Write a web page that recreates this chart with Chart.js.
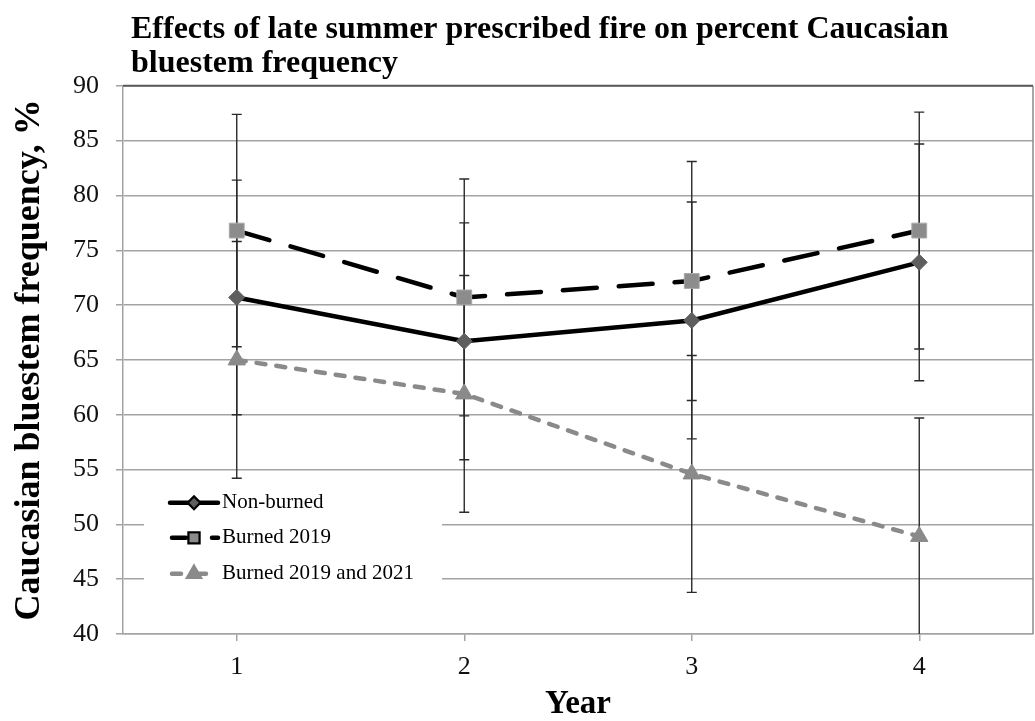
<!DOCTYPE html>
<html>
<head>
<meta charset="utf-8">
<script src="https://cdn.jsdelivr.net/npm/chart.js@4.4.1/dist/chart.umd.min.js"></script>
<style>
  html, body { margin: 0; padding: 0; background: #fff; }
  #wrap { width: 1035px; height: 721px; }
</style>
</head>
<body>
<div id="wrap"><canvas id="myChart" width="1035" height="721"></canvas></div>
<script>
// chart data
const years = ['1', '2', '3', '4'];
const nonBurned = [70.7, 66.7, 68.6, 73.9];
const nonBurnedErr = [10.7, 10.8, 10.8, 10.8];
const burned2019 = [76.8, 70.7, 72.2, 76.8];
const burned2019Err = [10.6, 10.8, 10.9, 10.8];
const burnedBoth = [65.0, 61.9, 54.6, 48.9];
const burnedBothErr = [10.8, 10.8, 10.8, 10.8];
const yTicks = [40, 45, 50, 55, 60, 65, 70, 75, 80, 85, 90];

const serif = "'Liberation Serif', 'Times New Roman', serif";
const gridGray = '#a3a3a3';

const data = {
  labels: years,
  datasets: [
    {
      label: 'Non-burned',
      data: nonBurned,
      errors: nonBurnedErr,
      borderColor: '#000',
      borderWidth: 4.5,
      pointStyle: 'rectRot',
      pointRadius: 8,
      pointBackgroundColor: '#5e5e5e',
      pointBorderColor: '#5e5e5e',
      pointBorderWidth: 1,
      tension: 0
    },
    {
      label: 'Burned 2019',
      data: burned2019,
      errors: burned2019Err,
      borderColor: '#000',
      borderWidth: 4.5,
      borderDash: [34, 22],
      borderCapStyle: 'round',
      pointStyle: 'rect',
      pointRadius: 10.5,
      pointBackgroundColor: '#8c8c8c',
      pointBorderColor: '#a9a9a9',
      pointBorderWidth: 1,
      tension: 0
    },
    {
      label: 'Burned 2019 and 2021',
      data: burnedBoth,
      errors: burnedBothErr,
      borderColor: '#8a8a8a',
      borderWidth: 4.5,
      borderDash: [9, 11],
      borderCapStyle: 'round',
      pointStyle: 'triangle',
      pointRadius: 10,
      pointBackgroundColor: '#8a8a8a',
      pointBorderColor: '#8a8a8a',
      pointBorderWidth: 1,
      tension: 0
    }
  ]
};

// error bars, drawn under the markers
const errorBars = {
  id: 'errorBars',
  beforeDatasetsDraw(chart) {
    const ctx = chart.ctx;
    const area = chart.chartArea;
    const xs = chart.scales.x, ys = chart.scales.y;
    ctx.save();
    ctx.beginPath();
    ctx.rect(area.left, area.top, area.right - area.left, area.bottom - area.top);
    ctx.clip();
    ctx.strokeStyle = '#2a2a2a';
    ctx.lineWidth = 1.4;
    chart.data.datasets.forEach(ds => {
      ds.data.forEach((v, i) => {
        const x = xs.getPixelForValue(i);
        const top = ys.getPixelForValue(v + ds.errors[i]);
        const bot = ys.getPixelForValue(v - ds.errors[i]);
        ctx.beginPath();
        ctx.moveTo(x, top); ctx.lineTo(x, bot);
        ctx.moveTo(x - 5, top); ctx.lineTo(x + 5, top);
        ctx.moveTo(x - 5, bot); ctx.lineTo(x + 5, bot);
        ctx.stroke();
      });
    });
    ctx.restore();
  }
};

// plot border + legend box inside the plot
const plotExtras = {
  id: 'plotExtras',
  afterLayout(chart) {
    // title sits a little right of the plot's left edge
    if (chart.titleBlock) {
      chart.titleBlock.left += 8;
      chart.titleBlock.right += 8;
    }
  },
  beforeDraw(chart) {
    const ctx = chart.ctx;
    ctx.save();
    ctx.fillStyle = '#fff';
    ctx.fillRect(0, 0, chart.width, chart.height);
    ctx.restore();
  },
  afterDraw(chart) {
    const ctx = chart.ctx;
    const a = chart.chartArea;
    ctx.save();
    ctx.strokeStyle = '#8a8a8a';
    ctx.lineWidth = 1.5;
    ctx.beginPath();
    ctx.moveTo(a.right, a.top); ctx.lineTo(a.right, a.bottom);
    ctx.stroke();
    ctx.strokeStyle = '#5a5a5a';
    ctx.lineWidth = 2;
    ctx.beginPath();
    ctx.moveTo(a.left, a.top); ctx.lineTo(a.right, a.top);
    ctx.stroke();

    // legend
    const lx = a.left + 21, ly = a.top + 399;
    ctx.fillStyle = '#fff';
    ctx.fillRect(lx, ly, 298, 108);
    const rows = [ly + 18, ly + 53, ly + 89];
    chart.data.datasets.forEach((ds, i) => {
      const y = rows[i];
      const x0 = lx + 26, x1 = lx + 74, xm = (x0 + x1) / 2;
      ctx.strokeStyle = ds.borderColor;
      ctx.lineWidth = ds.borderWidth;
      ctx.lineCap = 'round';
      if (i === 0) {
        ctx.setLineDash([]);
      } else if (i === 1) {
        ctx.setLineDash([14, 26]);
        ctx.lineDashOffset = -2;
      } else {
        ctx.setLineDash([9, 16]);
        ctx.lineDashOffset = -2;
      }
      ctx.beginPath();
      ctx.moveTo(x0, y); ctx.lineTo(x1, y);
      ctx.stroke();
      ctx.setLineDash([]);
      ctx.lineDashOffset = 0;
      Chart.helpers.drawPoint(ctx, {
        pointStyle: ds.pointStyle,
        radius: ds.pointRadius * 0.6,
        borderWidth: 1
      }, xm, y);
      ctx.fillStyle = ds.pointBackgroundColor;
      ctx.fill();
      ctx.fillStyle = '#000';
      ctx.font = '21px ' + serif;
      ctx.textBaseline = 'middle';
      ctx.textAlign = 'left';
      ctx.fillText(ds.label, x1 + 4, y);
    });
    ctx.restore();
  }
};

const config = {
  type: 'line',
  data,
  options: {
    responsive: false,
    animation: false,
    devicePixelRatio: 1,
    layout: { autoPadding: false, padding: { left: 0, right: 2, top: 0, bottom: 0 } },
    plugins: {
      legend: { display: false },
      tooltip: { enabled: false },
      title: {
        display: true,
        fullSize: false,
        align: 'start',
        text: ['Effects of late summer prescribed fire on percent Caucasian', 'bluestem frequency'],
        color: '#000',
        font: { family: serif, size: 32, weight: 'bold', lineHeight: 1.06 },
        padding: { top: 13, bottom: 5 }
      }
    },
    scales: {
      x: {
        type: 'category',
        offset: true,
        grid: {
          offset: false,
          drawOnChartArea: false,
          drawTicks: true,
          tickLength: 7,
          color: gridGray,
          lineWidth: 1.5
        },
        border: { color: gridGray, width: 1.5 },
        ticks: {
          color: '#111',
          padding: 11,
          font: { family: serif, size: 26 }
        },
        title: {
          display: true,
          text: 'Year',
          color: '#000',
          font: { family: serif, size: 33, weight: 'bold', lineHeight: 1 },
          padding: { top: 0, bottom: 0 }
        },
        afterFit(scale) {
          scale.height = 87;
          scale.paddingLeft = 0;
          scale.paddingRight = 0;
        }
      },
      y: {
        min: 40,
        max: 90,
        afterBuildTicks(scale) { scale.ticks = yTicks.map(v => ({ value: v })); },
        grid: {
          color: gridGray,
          lineWidth: 1.5,
          tickLength: 7
        },
        border: { color: gridGray, width: 1.5 },
        ticks: {
          color: '#111',
          padding: 17,
          font: { family: serif, size: 26 }
        },
        title: {
          display: true,
          text: 'Caucasian bluestem frequency, %',
          color: '#000',
          font: { family: serif, size: 36, weight: 'bold', lineHeight: 1 },
          padding: { top: 12, bottom: 0 }
        },
        afterFit(scale) { scale.width = 123; }
      }
    }
  },
  plugins: [errorBars, plotExtras]
};

const myChart = new Chart(document.getElementById('myChart'), config);
</script>
</body>
</html>
